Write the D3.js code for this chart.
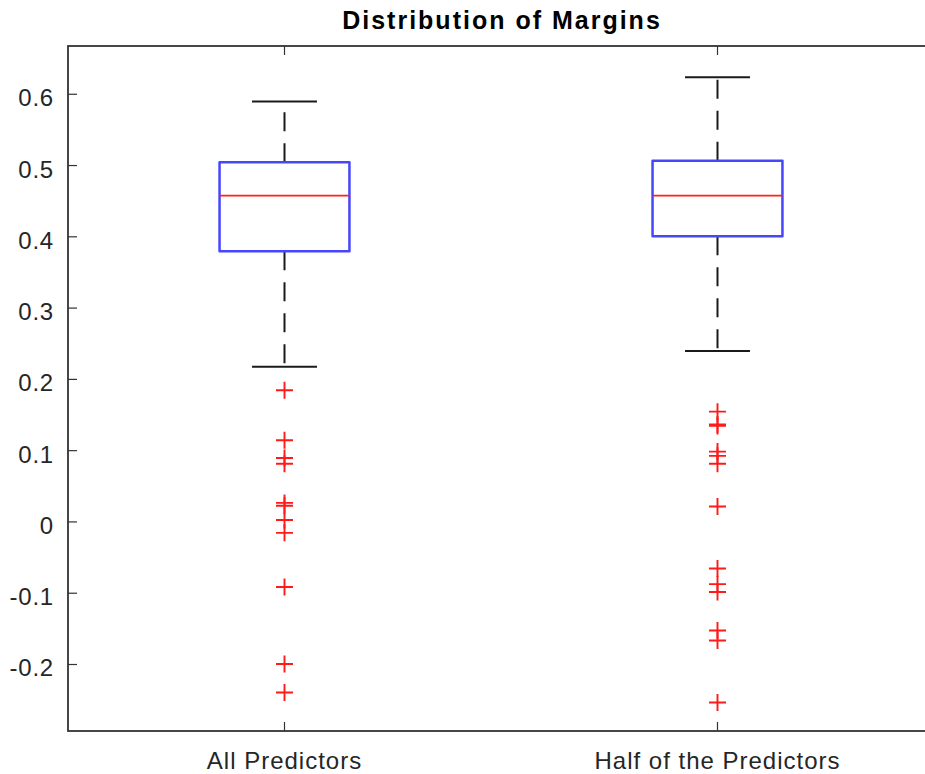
<!DOCTYPE html>
<html>
<head>
<meta charset="utf-8">
<script src="https://cdn.jsdelivr.net/npm/d3@7"></script>
<style>
  html, body { margin: 0; padding: 0; background: #fff; overflow: hidden; }
  svg { display: block; }
</style>
</head>
<body>
<svg id="chart" width="925" height="774"></svg>
<script>
// ---- data ----
const categories = ["All Predictors", "Half of the Predictors"];
const whiskerLow  = [0.217, 0.239];
const quartile1   = [0.379, 0.400];
const medians     = [0.457, 0.457];
const quartile3   = [0.504, 0.506];
const whiskerHigh = [0.589, 0.623];
const outliersAll  = [0.184, 0.114, 0.089, 0.081, 0.026, 0.022, 0.002, -0.016, -0.092, -0.200, -0.240];
const outliersHalf = [0.154, 0.136, 0.134, 0.098, 0.092, 0.081, 0.021, -0.066, -0.088, -0.099, -0.153, -0.167, -0.254];
const outliers = [outliersAll, outliersHalf];
const yTicks = [-0.2, -0.1, 0, 0.1, 0.2, 0.3, 0.4, 0.5, 0.6];
const yTickLabels = ["-0.2", "-0.1", "0", "0.1", "0.2", "0.3", "0.4", "0.5", "0.6"];
const chartTitle = "Distribution of Margins";

// ---- layout ----
const plotLeft = 68, plotRight = 934, plotTop = 46, plotBottom = 731;
const svg = d3.select("#chart");
const axisColor = "#333333";
const textColor = "#262626";
const font = "'Liberation Sans', Arial, Helvetica, sans-serif";

const x = d3.scaleBand().domain(categories).range([plotLeft, plotRight]).paddingInner(0).paddingOuter(0);
const y = d3.scaleLinear().domain([-0.294, 0.667]).range([plotBottom, plotTop]);
const cx = c => x(c) + x.bandwidth() / 2;
const boxHalf = x.bandwidth() * 0.15;
const capHalf = x.bandwidth() * 0.075;

// title
svg.append("text")
  .attr("x", 502)
  .attr("y", 29)
  .attr("text-anchor", "middle")
  .attr("font-family", font)
  .attr("font-weight", "bold")
  .attr("font-size", 25)
  .attr("letter-spacing", 2)
  .attr("fill", "#000")
  .text(chartTitle);

// axes
const tickLen = 9;
const gAxes = svg.append("g");

const yAxisL = d3.axisLeft(y).tickValues(yTicks).tickFormat((d, i) => yTickLabels[i]).tickSizeInner(-tickLen).tickSizeOuter(0).tickPadding(14);
gAxes.append("g").attr("transform", `translate(${plotLeft},0)`).call(yAxisL)
  .call(g => { g.select(".domain").remove(); g.selectAll("line").attr("stroke", axisColor).attr("stroke-width", 1.2);
    g.selectAll("text").attr("font-family", font).attr("font-size", 24).attr("letter-spacing", 0.8)
      .attr("dy", "0.5em").attr("fill", textColor); });

const yAxisR = d3.axisRight(y).tickValues(yTicks).tickFormat("").tickSizeInner(-tickLen).tickSizeOuter(0);
gAxes.append("g").attr("transform", `translate(${plotRight},0)`).call(yAxisR)
  .call(g => { g.select(".domain").remove(); g.selectAll("line").attr("stroke", axisColor).attr("stroke-width", 1.2); });

const xAxisB = d3.axisBottom(x).tickSizeInner(-tickLen).tickSizeOuter(0).tickPadding(21);
gAxes.append("g").attr("transform", `translate(0,${plotBottom})`).call(xAxisB)
  .call(g => { g.select(".domain").remove(); g.selectAll("line").attr("stroke", axisColor).attr("stroke-width", 1.2);
    g.selectAll("text").attr("font-family", font).attr("font-size", 24).attr("letter-spacing", 1).attr("fill", textColor); });

const xAxisT = d3.axisTop(x).tickFormat("").tickSizeInner(-tickLen).tickSizeOuter(0);
gAxes.append("g").attr("transform", `translate(0,${plotTop})`).call(xAxisT)
  .call(g => { g.select(".domain").remove(); g.selectAll("line").attr("stroke", axisColor).attr("stroke-width", 1.2); });

// frame
gAxes.append("rect").attr("x", plotLeft).attr("y", plotTop).attr("width", plotRight - plotLeft).attr("height", plotBottom - plotTop)
  .attr("fill", "none").attr("stroke", axisColor).attr("stroke-width", 1.8);

// boxes
const gBoxes = svg.append("g");
categories.forEach((c, i) => {
  const xc = cx(c);
  gBoxes.append("line").attr("x1", xc).attr("x2", xc).attr("y1", y(quartile3[i])).attr("y2", y(whiskerHigh[i]))
    .attr("stroke", "#1a1a1a").attr("stroke-width", 2).attr("stroke-dasharray", "19,12");
  gBoxes.append("line").attr("x1", xc).attr("x2", xc).attr("y1", y(quartile1[i])).attr("y2", y(whiskerLow[i]))
    .attr("stroke", "#1a1a1a").attr("stroke-width", 2).attr("stroke-dasharray", "19,12");
  [whiskerHigh[i], whiskerLow[i]].forEach(v => {
    gBoxes.append("line").attr("x1", xc - capHalf).attr("x2", xc + capHalf).attr("y1", y(v)).attr("y2", y(v))
      .attr("stroke", "#1a1a1a").attr("stroke-width", 2);
  });
  gBoxes.append("rect").attr("x", xc - boxHalf).attr("y", y(quartile3[i]))
    .attr("width", 2 * boxHalf).attr("height", y(quartile1[i]) - y(quartile3[i]))
    .attr("fill", "none").attr("stroke", "#4646ff").attr("stroke-width", 2.5)
    .attr("stroke-linejoin", "round");
  gBoxes.append("line").attr("x1", xc - boxHalf).attr("x2", xc + boxHalf).attr("y1", y(medians[i])).attr("y2", y(medians[i]))
    .attr("stroke", "#ff2020").attr("stroke-width", 1.7);
  const m = 8.5;
  outliers[i].forEach(v => {
    const yy = y(v);
    gBoxes.append("path").attr("d", `M${xc - m},${yy}H${xc + m}M${xc},${yy - m}V${yy + m}`)
      .attr("stroke", "#ff1a1a").attr("stroke-width", 1.9).attr("fill", "none");
  });
});
</script>
</body>
</html>
